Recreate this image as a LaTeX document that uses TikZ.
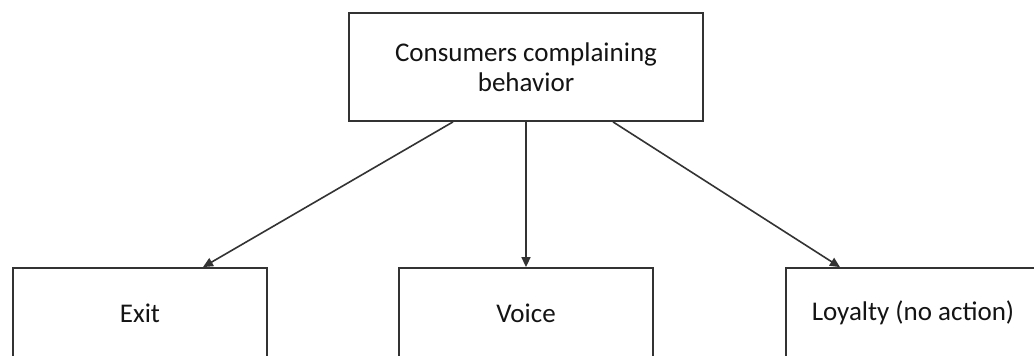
\documentclass[tikz,border=0pt]{standalone}
\usepackage{fontspec}
\setmainfont{Carlito}
\usetikzlibrary{arrows.meta,calc}
\definecolor{edge}{HTML}{333333}
\definecolor{ink}{HTML}{141414}
\tikzset{
  box/.style={draw=edge, line width=1.8pt, fill=white, text=ink,
    font=\fontsize{27}{30}\selectfont, align=center, inner sep=0pt},
  link/.style={draw=edge, line width=1.6pt, -{Triangle[length=10pt,width=9pt]}}
}
\begin{document}
\begin{tikzpicture}[x=1pt,y=-1pt]
\useasboundingbox (0,0) rectangle (1034,356);
\clip (0,0) rectangle (1034,356);
\fill[white] (0,0) rectangle (1034,356);
% root of the tree
\node[box, minimum width=354pt, minimum height=108pt] (top) at (526,67)
  {Consumers complaining\\behavior};
% the three responses
\node[box, minimum width=254pt, minimum height=90pt] (exit) at (140,313) {Exit};
\node[box, minimum width=254pt, minimum height=90pt] (voice) at (526,313) {Voice};
\node[box, minimum width=254pt, minimum height=90pt] (loyal) at (913,313) {Loyalty (no action)};
% connectors
\draw[link] ([xshift=-73pt]top.south) -- ([xshift=63pt]exit.north);
\draw[link] (top.south) -- (voice.north);
\draw[link] ([xshift=87pt]top.south) -- ([xshift=-73pt]loyal.north);
\end{tikzpicture}
\end{document}
